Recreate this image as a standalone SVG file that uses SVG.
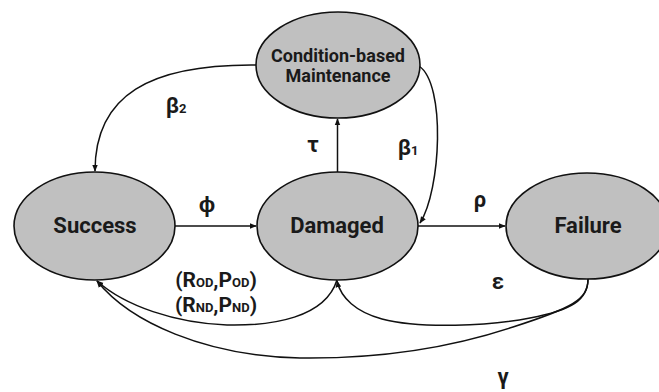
<svg xmlns="http://www.w3.org/2000/svg" width="659" height="392" viewBox="0 0 659 392">
  <defs>
    <marker id="arrow" viewBox="0 0 10 10" refX="9" refY="5" markerWidth="7" markerHeight="7" markerUnits="userSpaceOnUse" orient="auto">
      <path d="M0,1 L10,5 L0,9 Z" fill="#111"/>
    </marker>
  </defs>
  <style>
    .state { fill: #c0c0c0; stroke: #111; stroke-width: 1.6; }
    .name { font-family: Roboto, "Liberation Sans", sans-serif; font-weight: bold; font-size: 22px; fill: #1a1a1a; text-anchor: middle; }
    .small { font-size: 18px; }
    .edge { fill: none; stroke: #111; stroke-width: 1.5; marker-end: url(#arrow); }
    .rate { font-family: Roboto, "Liberation Sans", sans-serif; font-weight: bold; font-size: 21px; fill: #1a1a1a; text-anchor: middle; }
    .greek { font-size: 22px; }
    .sub { font-size: 13px; }
  </style>
  <rect width="659" height="392" fill="#ffffff"/>

  <g id="edges">
    <path class="edge" d="M175,226 L256,226"/>
    <path class="edge" d="M418,226 L505,226"/>
    <path class="edge" d="M337.5,172 L337.5,119"/>
    <path class="edge" d="M419,66 C446,84 441,190 420,223"/>
    <path class="edge" d="M256,65 C150,64 95,95 95,171"/>
    <path class="edge" d="M337,280 C325,318 272,326 227,325 C175,323 125,306 97,281"/>
    <path class="edge" d="M588,279 C588,300 572,310 530,318 C490,326 420,329 382,319 C356,312 341,298 337,281"/>
    <path class="edge" d="M588,279 C588,300 572,308 513,327 C450,348 380,359 300,358 C205,356 130,322 97,281"/>
  </g>

  <g id="cbm">
    <ellipse class="state" cx="338" cy="65" rx="82" ry="53"/>
    <text class="name small" x="338" y="62">Condition-based</text>
    <text class="name small" x="338" y="82">Maintenance</text>
  </g>
  <g id="success">
    <ellipse class="state" cx="94.5" cy="226" rx="80.5" ry="54"/>
    <text class="name" x="95" y="233">Success</text>
  </g>
  <g id="damaged">
    <ellipse class="state" cx="337.5" cy="226" rx="80.5" ry="54"/>
    <text class="name" x="337" y="233">Damaged</text>
  </g>
  <g id="failure">
    <ellipse class="state" cx="587" cy="226" rx="81" ry="53"/>
    <text class="name" x="588" y="233">Failure</text>
  </g>

  <g id="labels">
    <text class="rate greek" x="207" y="212">ϕ</text>
    <text class="rate greek" x="480" y="207">ρ</text>
    <text class="rate greek" x="313" y="152">τ</text>
    <text class="rate greek" x="408" y="155">β<tspan class="sub">1</tspan></text>
    <text class="rate greek" x="176" y="113">β<tspan class="sub">2</tspan></text>
    <text class="rate greek" x="498" y="289">ε</text>
    <text class="rate greek" x="503" y="384">γ</text>
    <text class="rate" x="216" y="287">(R<tspan class="sub">OD</tspan>,P<tspan class="sub">OD</tspan>)</text>
    <text class="rate" x="216" y="312">(R<tspan class="sub">ND</tspan>,P<tspan class="sub">ND</tspan>)</text>
  </g>
</svg>
